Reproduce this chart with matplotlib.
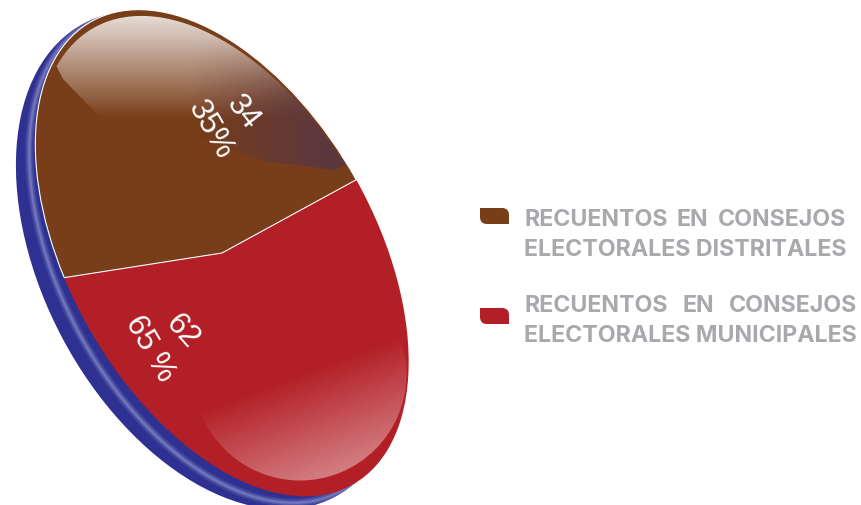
import numpy as np
import matplotlib
matplotlib.use("Agg")
import matplotlib.pyplot as plt
from matplotlib.patches import Circle, PathPatch
from matplotlib.path import Path
from matplotlib.transforms import Affine2D

# data
labels = ["RECUENTOS EN CONSEJOS ELECTORALES DISTRITALES",
          "RECUENTOS EN CONSEJOS ELECTORALES MUNICIPALES"]
counts = [34, 62]
percents = [35, 65]
colors = ["#783d19", "#b31f26"]

BLUE = "#2e3192"
LAVENDER = "#a3a5d6"
GREY = "#a7a9ac"

# tilted disc, in picture pixels
CX, CY = 222, 254
A, B = 266, 153
UX, UY = 0.492, 0.870
VX, VY = 0.870, -0.492
# the picture foreshortens the first slice, it looks wider than its share
STRETCH = 1.32


def discTransform(shift=0, da=0, db=0, turn=0):
    c, s = np.cos(np.radians(turn)), np.sin(np.radians(turn))
    ux, uy = c * UX - s * VX, c * UY - s * VY
    vx, vy = s * UX + c * VX, s * UY + c * VY
    return Affine2D.from_values((A + da) * ux, (A + da) * uy,
                                (B + db) * vx, (B + db) * vy,
                                CX - shift * VX, CY - shift * VY) + ax.transData


def swatch(y, color):
    x0, x1, h, r = 480, 509, 16, 7
    verts = [(x0, y), (x1 - r, y), (x1, y), (x1, y + r), (x1, y + h), (x0 + r, y + h),
             (x0, y + h), (x0, y + h - r), (x0, y)]
    codes = [Path.MOVETO, Path.LINETO, Path.CURVE3, Path.CURVE3, Path.LINETO, Path.LINETO,
             Path.CURVE3, Path.CURVE3, Path.CLOSEPOLY]
    ax.add_patch(PathPatch(Path(verts, codes), fc=color, ec="none", zorder=5))


fig = plt.figure(figsize=(8.61, 5.06), dpi=100)
ax = fig.add_axes([0, 0, 1, 1])

# blue back of the disc with its soft light stripe
ax.add_patch(Circle((0, 0), 1, fc=LAVENDER, ec="none", transform=discTransform(13.5, 2, 13, 1.5), zorder=0.9))
back = Circle((0, 0), 1, fc=BLUE, ec="none", transform=discTransform(15, 2, 13, 1.5), zorder=1)
ax.add_patch(back)
for lw, alpha in [(6, 0.16), (3.5, 0.25), (1.5, 0.35)]:
    stripe = Circle((0, 0), 1, fc="none", ec=LAVENDER, lw=lw, alpha=alpha,
                    transform=discTransform(8, 0, 3, 1.5), zorder=2)
    ax.add_patch(stripe)
    stripe.set_clip_path(back)

# slices
wedges, _ = ax.pie(counts, colors=colors, startangle=89.5, radius=1,
                   wedgeprops={"linewidth": 0})
brown, red = wedges
brown.set_theta2(brown.theta1 + STRETCH * (brown.theta2 - brown.theta1))
red.set_theta1(brown.theta2)
brown.set(edgecolor="white", linewidth=0.8, zorder=3.2)
red.set(zorder=3)
for w in wedges:
    w.set_transform(discTransform())

# gloss, top of the brown slice
yy, xx = np.mgrid[0:506, 0:861] + 0.5
top = np.zeros((506, 861, 4))
white = np.clip(0.82 * (1 - (yy - 18) / 102), 0, 1)
dark = np.clip((xx - 190) / 130, 0, 1) * np.clip((yy - 40) / 70, 0, 1) * 0.95
top[..., :3] = (np.array([1, 1, 1]) * (white * (1 - dark))[..., None]
                + np.array([0.36, 0.22, 0.25]) * dark[..., None])
top[..., :3] /= np.maximum(white * (1 - dark) + dark, 1e-3)[..., None]
top[..., 3] = white + dark - white * dark
imTop = ax.imshow(top, extent=(0, 861, 506, 0), aspect="auto", zorder=4)

t = np.radians(np.linspace(75, 262, 160))
arc = np.column_stack([(A - 5) * np.cos(t) * UX + (B - 1) * np.sin(t) * VX + CX,
                       (A - 5) * np.cos(t) * UY + (B - 1) * np.sin(t) * VY + CY + 2])
rim = arc[::-1]
rim = rim[(rim[:, 1] < 170) & ((rim[:, 1] < 70) | (rim[:, 0] > 100))]
lower = [(333, 171), (300, 166), (267, 163), (200, 140), (100, 118), (63, 80)]
topClip = PathPatch(Path(np.vstack([rim, lower, rim[:1]]), closed=True), transform=ax.transData)
imTop.set_clip_path(topClip)

# gloss, bottom of the red slice
bottom = np.ones((506, 861, 4))
d = (xx - 200) * 0.348 + (yy - 420) * 0.938 + 8
bottom[..., 3] = np.clip(d / 105, 0, 1) * 0.42
imBottom = ax.imshow(bottom, extent=(0, 861, 506, 0), aspect="auto", zorder=4)
imBottom.set_clip_path(Circle((300, 375), 106.5, transform=ax.transData))

# values on the slices
valueFont = dict(color="white", fontsize=22.5, family="Liberation Sans", ha="center", va="center", zorder=6)
ax.text(243, 113, str(counts[0]), rotation=-52, **valueFont)
ax.text(210, 130, f"{percents[0]}%", rotation=-60, **valueFont)
ax.text(182, 332, str(counts[1]), rotation=-48, **valueFont)
ax.text(150, 349, f"{percents[1]} %", rotation=-60, **valueFont)

# legend, first line of each entry is justified
font = dict(color=GREY, fontsize=16.7, family="Inter", weight="bold", va="center", zorder=6)
legendRows = [(220.5, 250.5, 846, 692, 209), (305.5, 335.5, 857, 698, 309)]
for label, color, (y1, y2, right, mid, yBox) in zip(labels, colors, legendRows):
    words = label.split()
    swatch(yBox, color)
    ax.text(524, y1, words[0], ha="left", **font)
    ax.text(mid, y1, words[1], ha="center", **font)
    ax.text(right, y1, words[2], ha="right", **font)
    ax.text(524, y2, " ".join(words[3:]), ha="left", **font)

ax.set_aspect("auto")
ax.set_xlim(0, 861)
ax.set_ylim(506, 0)
ax.axis("off")
fig.savefig("out.png", dpi=100)
